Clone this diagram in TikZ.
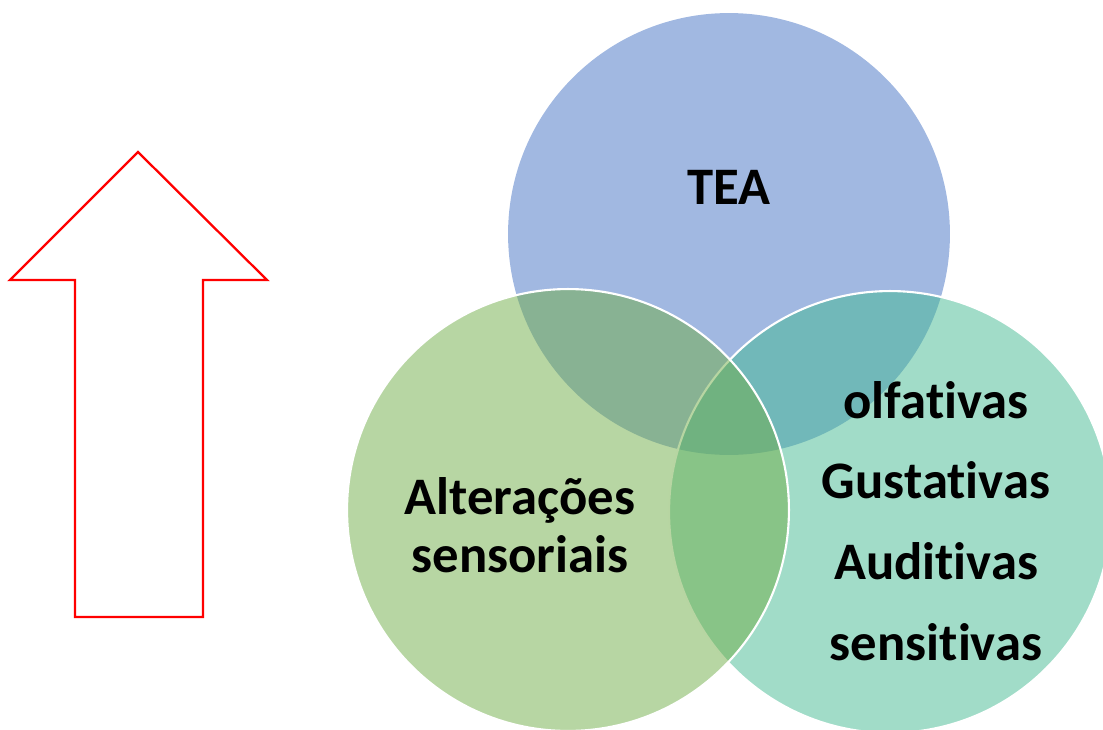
\documentclass[tikz,border=0pt]{standalone}
\usepackage{fontspec}
\setmainfont[Ligatures={NoCommon,NoContextual}]{Carlito}
\definecolor{teablue}{RGB}{68,114,196}
\definecolor{sensgreen}{RGB}{112,173,71}
\definecolor{kindteal}{RGB}{67,185,145}
\begin{document}
\begin{tikzpicture}[x=0.02cm, y=-0.02cm,
  venn/.style={circle, minimum size=8.84cm, inner sep=0pt, fill opacity=0.5, draw=white, line width=1.2pt},
  vtext/.style={font=\fontsize{30}{46}\selectfont\bfseries, align=center, text=black}]
\useasboundingbox (0,0) rectangle (1103,730);

% the three circles
\node (tea) [venn, fill=teablue, draw=none] at (729,234) {};
\node (senses) [venn, fill=kindteal] at (890,512) {};
\node (changes) [venn, fill=sensgreen] at (568,510) {};

\node (tealabel) [vtext] at (729,187) {TEA};
\node (changeslabel) [vtext, font=\fontsize{30}{33}\selectfont\bfseries] at (520,525) {Alterações\\sensoriais};
\node (senseslabel) [vtext] at (936,521) {olfativas\\Gustativas\\Auditivas\\sensitivas};

% arrow on the left
\draw[red, line width=1.3pt] (138,152) -- (267,280) -- (203,280) -- (203,617) -- (75,617) -- (75,280) -- (10,280) -- cycle;

\end{tikzpicture}
\end{document}
